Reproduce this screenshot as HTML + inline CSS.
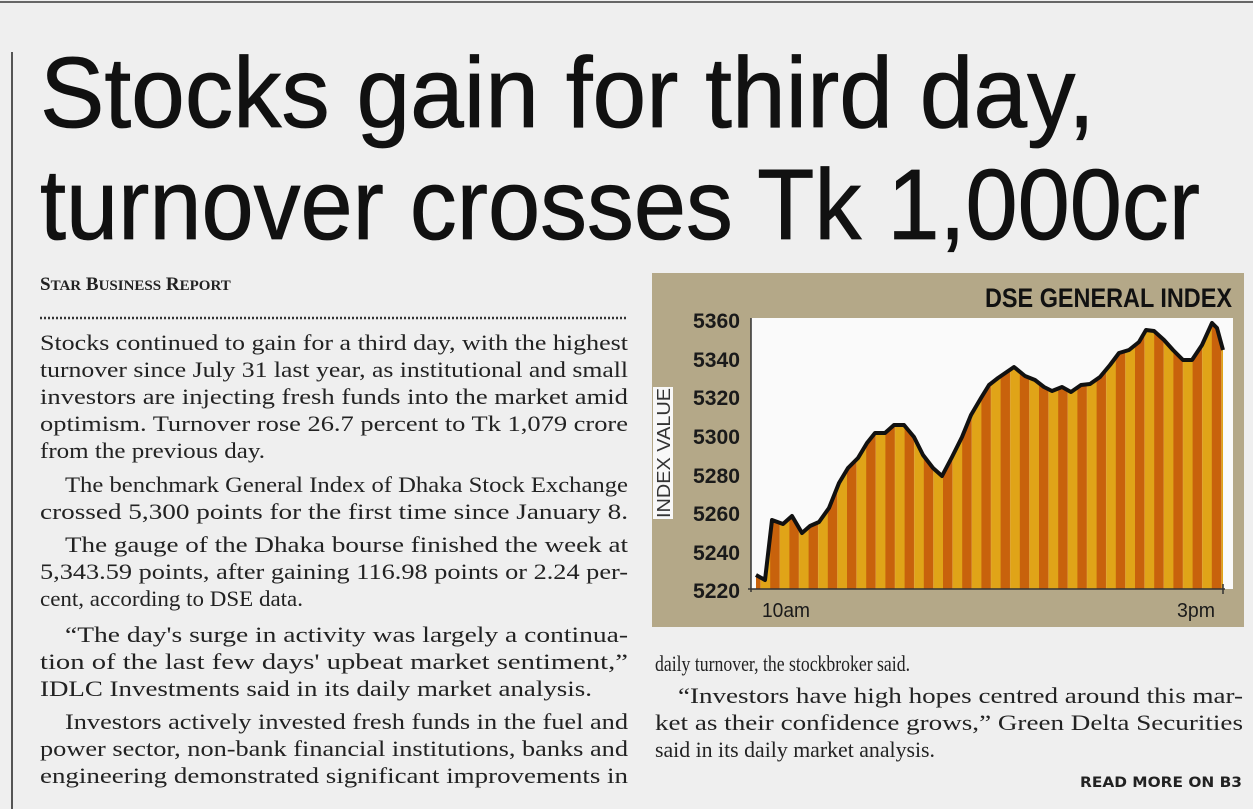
<!DOCTYPE html>
<html><head><meta charset="utf-8"><style>
html,body{margin:0;padding:0;background:#efefef;}
svg{display:block}
.b{font-family:"Liberation Serif",serif;font-size:22.5px;fill:#222}
.h{font-family:"Liberation Sans",sans-serif;font-size:100px;fill:#111;stroke:#111;stroke-width:0.8}
.y{font-family:"Liberation Sans",sans-serif;font-size:21px;font-weight:bold;fill:#1a1a1a}
</style></head><body>
<svg width="1253" height="809" viewBox="0 0 1253 809" xmlns="http://www.w3.org/2000/svg">
<defs>
<pattern id="st" x="751" y="0" width="19.2" height="10" patternUnits="userSpaceOnUse">
<rect x="0" y="0" width="9.6" height="10" fill="#c8620c"/>
<rect x="9.6" y="0" width="9.6" height="10" fill="#e0a418"/>
</pattern>
</defs>
<rect width="1253" height="809" fill="#efefef"/>
<line x1="0" y1="2" x2="1253" y2="2" stroke="#666" stroke-width="2"/>
<line x1="12" y1="52" x2="12" y2="809" stroke="#555" stroke-width="2"/>
<text class="h" x="40" y="127" textLength="1055" lengthAdjust="spacingAndGlyphs">Stocks gain for third day,</text>
<text class="h" x="40" y="239" textLength="1160" lengthAdjust="spacingAndGlyphs">turnover crosses Tk 1,000cr</text>
<text x="40" y="290" font-family="Liberation Serif,serif" font-weight="bold" font-size="19" fill="#222">S<tspan font-size="15">TAR</tspan> B<tspan font-size="15">USINESS</tspan> R<tspan font-size="15">EPORT</tspan></text>
<line x1="40" y1="318" x2="628" y2="318" stroke="#333" stroke-width="2.5" stroke-dasharray="2 2"/>
<g class="b">
<text x="40" y="350" textLength="588" lengthAdjust="spacingAndGlyphs">Stocks continued to gain for a third day, with the highest</text>
<text x="40" y="377" textLength="588" lengthAdjust="spacingAndGlyphs">turnover since July 31 last year, as institutional and small</text>
<text x="40" y="404" textLength="588" lengthAdjust="spacingAndGlyphs">investors are injecting fresh funds into the market amid</text>
<text x="40" y="431" textLength="588" lengthAdjust="spacingAndGlyphs">optimism. Turnover rose 26.7 percent to Tk 1,079 crore</text>
<text x="40" y="458" textLength="225" lengthAdjust="spacingAndGlyphs">from the previous day.</text>
<text x="65" y="492" textLength="563" lengthAdjust="spacingAndGlyphs">The benchmark General Index of Dhaka Stock Exchange</text>
<text x="40" y="519" textLength="588" lengthAdjust="spacingAndGlyphs">crossed 5,300 points for the first time since January 8.</text>
<text x="65" y="552" textLength="563" lengthAdjust="spacingAndGlyphs">The gauge of the Dhaka bourse finished the week at</text>
<text x="40" y="579" textLength="588" lengthAdjust="spacingAndGlyphs">5,343.59 points, after gaining 116.98 points or 2.24 per-</text>
<text x="40" y="606" textLength="263" lengthAdjust="spacingAndGlyphs">cent, according to DSE data.</text>
<text x="65" y="642" textLength="563" lengthAdjust="spacingAndGlyphs">“The day's surge in activity was largely a continua-</text>
<text x="40" y="669" textLength="588" lengthAdjust="spacingAndGlyphs">tion of the last few days' upbeat market sentiment,”</text>
<text x="40" y="696" textLength="552" lengthAdjust="spacingAndGlyphs">IDLC Investments said in its daily market analysis.</text>
<text x="65" y="729" textLength="563" lengthAdjust="spacingAndGlyphs">Investors actively invested fresh funds in the fuel and</text>
<text x="40" y="756" textLength="588" lengthAdjust="spacingAndGlyphs">power sector, non-bank financial institutions, banks and</text>
<text x="40" y="783" textLength="588" lengthAdjust="spacingAndGlyphs">engineering demonstrated significant improvements in</text>
<text x="655" y="671" textLength="255" lengthAdjust="spacingAndGlyphs">daily turnover, the stockbroker said.</text>
<text x="678" y="703" textLength="565" lengthAdjust="spacingAndGlyphs">“Investors have high hopes centred around this mar-</text>
<text x="655" y="730" textLength="588" lengthAdjust="spacingAndGlyphs">ket as their confidence grows,” Green Delta Securities</text>
<text x="655" y="757" textLength="280" lengthAdjust="spacingAndGlyphs">said in its daily market analysis.</text>
</g>
<text x="1242" y="787" text-anchor="end" font-family="DejaVu Sans,sans-serif" font-weight="bold" font-size="14" fill="#222" textLength="162" lengthAdjust="spacingAndGlyphs">READ MORE ON B3</text>
<rect x="652" y="273" width="592" height="354" fill="#b4a888"/>
<rect x="751" y="318" width="482" height="271" fill="#fafafa"/>
<rect x="653" y="387" width="20" height="132" fill="#f8f8f8"/>
<text transform="translate(670,518) rotate(-90)" font-family="Liberation Sans,sans-serif" font-size="18" fill="#333" textLength="130" lengthAdjust="spacingAndGlyphs">INDEX VALUE</text>
<text x="1232" y="307" text-anchor="end" font-family="Liberation Sans,sans-serif" font-weight="bold" font-size="27" fill="#111" textLength="247" lengthAdjust="spacingAndGlyphs">DSE GENERAL INDEX</text>
<g class="y" text-anchor="end">
<text x="740" y="328" textLength="47" lengthAdjust="spacingAndGlyphs">5360</text>
<text x="740" y="367" textLength="47" lengthAdjust="spacingAndGlyphs">5340</text>
<text x="740" y="405" textLength="47" lengthAdjust="spacingAndGlyphs">5320</text>
<text x="740" y="444" textLength="47" lengthAdjust="spacingAndGlyphs">5300</text>
<text x="740" y="483" textLength="47" lengthAdjust="spacingAndGlyphs">5280</text>
<text x="740" y="521" textLength="47" lengthAdjust="spacingAndGlyphs">5260</text>
<text x="740" y="560" textLength="47" lengthAdjust="spacingAndGlyphs">5240</text>
<text x="740" y="598" textLength="47" lengthAdjust="spacingAndGlyphs">5220</text>
</g>
<polygon fill="url(#st)" points="756,589 756,575 765,580 772,520 783,524 792,516 802,533 810,526 819,522 829,508 839,483 848,468 858,458 867,443 875,433 885,433 894,425 904,425 914,437 923,455 933,468 942,476 952,457 962,437 971,415 981,398 989,385 998,378 1014,367 1025,376 1035,380 1044,387 1052,391 1062,387 1071,392 1081,385 1090,384 1100,377 1110,365 1119,353 1129,350 1139,342 1146,330 1154,331 1164,340 1173,350 1183,360 1192,360 1202,345 1212,323 1217,328 1223,350 1223,589"/>
<polyline fill="none" stroke="#111" stroke-width="4" stroke-linejoin="round" points="756,575 765,580 772,520 783,524 792,516 802,533 810,526 819,522 829,508 839,483 848,468 858,458 867,443 875,433 885,433 894,425 904,425 914,437 923,455 933,468 942,476 952,457 962,437 971,415 981,398 989,385 998,378 1014,367 1025,376 1035,380 1044,387 1052,391 1062,387 1071,392 1081,385 1090,384 1100,377 1110,365 1119,353 1129,350 1139,342 1146,330 1154,331 1164,340 1173,350 1183,360 1192,360 1202,345 1212,323 1217,328 1223,350"/>
<line x1="751" y1="318" x2="751" y2="592" stroke="#333" stroke-width="1.5"/>
<line x1="748" y1="589" x2="1225" y2="589" stroke="#333" stroke-width="1.5"/>
<line x1="1223" y1="584" x2="1223" y2="594" stroke="#333" stroke-width="1.5"/>
<text x="762" y="617" font-family="Liberation Sans,sans-serif" font-size="20" fill="#1a1a1a" textLength="48" lengthAdjust="spacingAndGlyphs">10am</text>
<text x="1177" y="617" font-family="Liberation Sans,sans-serif" font-size="20" fill="#1a1a1a" textLength="38" lengthAdjust="spacingAndGlyphs">3pm</text>
</svg>
</body></html>
